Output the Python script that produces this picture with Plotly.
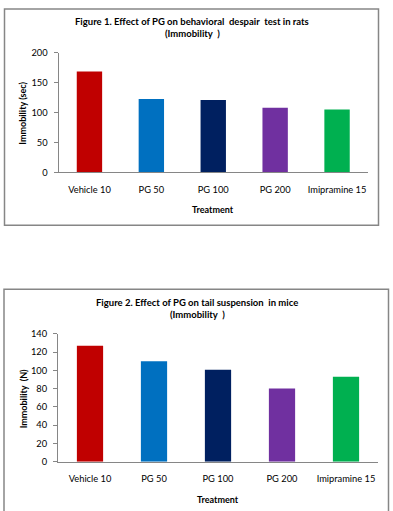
import plotly.graph_objects as go

W, H = 393, 511

categories = ["Vehicle 10", "PG 50", "PG 100", "PG 200", "Imipramine 15"]
rats_immobility_sec = [168.5, 122.5, 121, 108, 105]
mice_immobility_n = [127, 110, 100.5, 80, 93]
bar_colors = ["#C00000", "#0070C0", "#002060", "#7030A0", "#00B050"]

title1 = ["Figure 1. Effect of PG on behavioral  despair  test in rats", "(Immobility  )"]
title2 = ["Figure 2. Effect of PG on tail suspension  in mice", "(Immobility  )"]
ytitle1 = "Immobility (sec)"
ytitle2 = "Immobility  (N)"
xtitle = "Treatment"
yticks1 = [0, 50, 100, 150, 200]
yticks2 = [0, 20, 40, 60, 80, 100, 120, 140]

FONT = "Lato"
AX = "#868686"


def px(x):
    return x / W


def py(y):
    return 1 - y / H


fig = go.Figure()
fig.add_trace(go.Bar(x=categories, y=rats_immobility_sec, marker_color=bar_colors,
                     marker_line_width=0, xaxis="x", yaxis="y", showlegend=False))
fig.add_trace(go.Bar(x=categories, y=mice_immobility_n, marker_color=bar_colors,
                     marker_line_width=0, xaxis="x2", yaxis="y2", showlegend=False))

xcommon = dict(showgrid=False, showline=True, linecolor=AX, linewidth=1,
               ticks="outside", ticklen=8, tickcolor="rgba(0,0,0,0)",
               tickfont=dict(family=FONT, size=9.3, color="#000"), fixedrange=True)
ycommon = dict(showgrid=False, showline=True, linecolor=AX, linewidth=1, zeroline=False,
               ticks="outside", ticklen=4, tickcolor=AX, ticklabelstandoff=4,
               tickfont=dict(family=FONT, size=9.3, color="#000"), fixedrange=True)

fig.update_layout(
    width=W, height=H,
    margin=dict(l=0, r=0, t=0, b=0),
    paper_bgcolor="white", plot_bgcolor="white",
    bargap=0.59,
    xaxis=dict(domain=[px(58.5), px(368)], anchor="y", **xcommon),
    yaxis=dict(domain=[py(170), py(47.7)], anchor="x", range=[0, 200],
               tickvals=yticks1, **ycommon),
    xaxis2=dict(domain=[px(58), px(378)], anchor="y2", **xcommon),
    yaxis2=dict(domain=[py(465.7), py(335)], anchor="x2", range=[0, 140],
                tickvals=yticks2, **ycommon),
)

shapes = [
    dict(type="rect", xref="paper", yref="paper", x0=px(4.5), x1=px(378.5),
         y0=py(224), y1=py(3), line=dict(color=AX, width=1.5)),
    dict(type="rect", xref="paper", yref="paper", x0=px(4), x1=px(388.5),
         y0=py(530), y1=py(289.5), line=dict(color=AX, width=1.5)),
]
fig.update_layout(shapes=shapes)

ann = []


def label(text, x, y, size=9, bold=True, angle=0):
    ann.append(dict(text=f"<b>{text}</b>" if bold else text, x=px(x), y=py(y),
                    xref="paper", yref="paper", showarrow=False, textangle=angle,
                    xanchor="center", yanchor="middle",
                    font=dict(family=FONT, size=size, color="#000")))


label(title1[0], 192, 16, size=9.5)
label(title1[1], 192, 28, size=9.5)
label(title2[0], 197, 303, size=9.5)
label(title2[1], 197, 315, size=9.5)
label(ytitle1, 23, 110, angle=-90)
label(ytitle2, 23, 402, angle=-90)
label(xtitle, 213, 208)
label(xtitle, 218, 504)
fig.update_layout(annotations=ann)

fig.write_html("out.html", config={"displayModeBar": False},
               post_script="document.body.style.margin='0';document.body.style.overflow='hidden';")
